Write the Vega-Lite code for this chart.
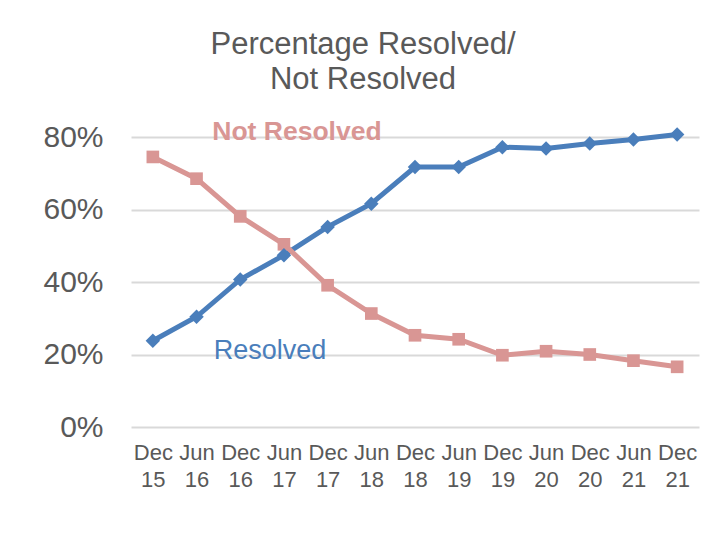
{
  "$schema": "https://vega.github.io/schema/vega-lite/v6.json",
  "autosize": {"type": "none"},
  "width": 568,
  "height": 290,
  "padding": {"left": 131, "top": 137, "right": 12, "bottom": 112},
  "background": "white",
  "config": {
    "view": {"stroke": null},
    "font": "Liberation Sans"
  },
  "title": {
    "text": ["Percentage Resolved/", "Not Resolved"],
    "fontSize": 31,
    "fontWeight": "normal",
    "color": "#595959",
    "font": "Liberation Sans",
    "anchor": "middle",
    "dx": -52,
    "offset": 23,
    "lineHeight": 35
  },
  "datasets": {
    "series": [
      {"period": "Dec 15", "status": "Resolved", "value": 0.238},
      {"period": "Jun 16", "status": "Resolved", "value": 0.304},
      {"period": "Dec 16", "status": "Resolved", "value": 0.407},
      {"period": "Jun 17", "status": "Resolved", "value": 0.474},
      {"period": "Dec 17", "status": "Resolved", "value": 0.552},
      {"period": "Jun 18", "status": "Resolved", "value": 0.616},
      {"period": "Dec 18", "status": "Resolved", "value": 0.717},
      {"period": "Jun 19", "status": "Resolved", "value": 0.717},
      {"period": "Dec 19", "status": "Resolved", "value": 0.772},
      {"period": "Jun 20", "status": "Resolved", "value": 0.768},
      {"period": "Dec 20", "status": "Resolved", "value": 0.782},
      {"period": "Jun 21", "status": "Resolved", "value": 0.793},
      {"period": "Dec 21", "status": "Resolved", "value": 0.807},
      {"period": "Dec 15", "status": "Not Resolved", "value": 0.745},
      {"period": "Jun 16", "status": "Not Resolved", "value": 0.685},
      {"period": "Dec 16", "status": "Not Resolved", "value": 0.581},
      {"period": "Jun 17", "status": "Not Resolved", "value": 0.504},
      {"period": "Dec 17", "status": "Not Resolved", "value": 0.391},
      {"period": "Jun 18", "status": "Not Resolved", "value": 0.313},
      {"period": "Dec 18", "status": "Not Resolved", "value": 0.253},
      {"period": "Jun 19", "status": "Not Resolved", "value": 0.242},
      {"period": "Dec 19", "status": "Not Resolved", "value": 0.198},
      {"period": "Jun 20", "status": "Not Resolved", "value": 0.209},
      {"period": "Dec 20", "status": "Not Resolved", "value": 0.200},
      {"period": "Jun 21", "status": "Not Resolved", "value": 0.183},
      {"period": "Dec 21", "status": "Not Resolved", "value": 0.166}
    ],
    "labels": [
      {"period": "Jun 17", "status": "Not Resolved", "value": 0.815},
      {"period": "Jun 17", "status": "Resolved", "value": 0.21}
    ]
  },
  "encoding": {
    "x": {
      "field": "period",
      "type": "ordinal",
      "sort": null,
      "scale": {"domain": ["Dec 15","Jun 16","Dec 16","Jun 17","Dec 17","Jun 18","Dec 18","Jun 19","Dec 19","Jun 20","Dec 20","Jun 21","Dec 21"], "paddingInner": 0, "paddingOuter": 0},
      "axis": {
        "title": null,
        "labelAngle": 0,
        "labelExpr": "split(datum.label, ' ')",
        "labelFontSize": 22,
        "labelColor": "#595959",
        "labelLineHeight": 27,
        "labelPadding": 15,
        "ticks": false,
        "domain": false,
        "grid": false
      }
    },
    "y": {
      "field": "value",
      "type": "quantitative",
      "scale": {"domain": [0, 0.8], "nice": false, "clamp": false},
      "axis": {
        "title": null,
        "format": ".0%",
        "values": [0, 0.2, 0.4, 0.6, 0.8],
        "labelFontSize": 30,
        "labelColor": "#595959",
        "labelPadding": 28,
        "ticks": false,
        "domain": false,
        "grid": true,
        "gridColor": "#d9d9d9",
        "gridWidth": 2
      }
    },
    "color": {
      "field": "status",
      "type": "nominal",
      "scale": {"domain": ["Resolved", "Not Resolved"], "range": ["#4a7ebb", "#d99694"]},
      "legend": null
    }
  },
  "layer": [
    {
      "data": {"name": "series"},
      "mark": {"type": "line", "strokeWidth": 5},
      "encoding": {"detail": {"field": "status"}}
    },
    {
      "data": {"name": "series"},
      "transform": [{"filter": "datum.status === 'Not Resolved'"}],
      "mark": {"type": "point", "shape": "square", "filled": true, "opacity": 1, "size": 160}
    },
    {
      "data": {"name": "series"},
      "transform": [{"filter": "datum.status === 'Resolved'"}],
      "mark": {"type": "point", "shape": "diamond", "filled": true, "opacity": 1, "size": 210}
    },
    {
      "data": {"name": "labels"},
      "transform": [{"filter": "datum.status === 'Not Resolved'"}],
      "mark": {"type": "text", "fontSize": 26.5, "fontWeight": "bold", "dx": 13, "baseline": "middle"},
      "encoding": {"text": {"field": "status"}}
    },
    {
      "data": {"name": "labels"},
      "transform": [{"filter": "datum.status === 'Resolved'"}],
      "mark": {"type": "text", "fontSize": 27, "dx": -14, "baseline": "middle"},
      "encoding": {"text": {"field": "status"}}
    }
  ]
}
